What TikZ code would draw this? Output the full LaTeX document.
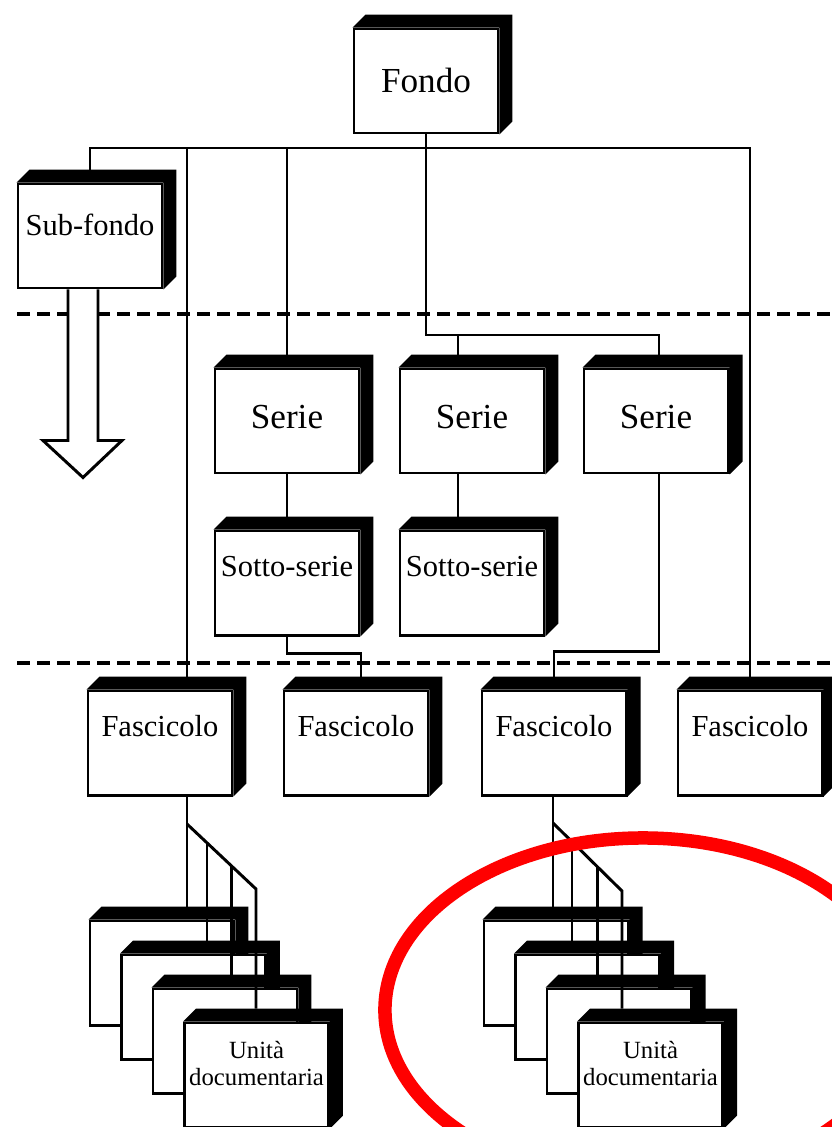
\documentclass[tikz,border=0pt]{standalone}
\usepackage{fontspec}
\setmainfont{Liberation Serif}
\usetikzlibrary{calc}
% black thickness on top and right of a box, plus the point where lines land on it
\newcommand{\spessore}[1]{%
  \fill (#1.north west) -- ++(13,-13) -- ($(#1.north east)+(13,-13)$)
    -- ($(#1.south east)+(13,-13)$) -- (#1.south east) -- (#1.north east) -- cycle;
  \coordinate (#1-t) at ([yshift=3.25mm]#1.north);}

\begin{document}
\begin{tikzpicture}[x=0.025cm,y=-0.025cm,line width=2.1pt,
    scheda/.style={draw,fill=white,minimum width=3.6cm,minimum height=2.6cm,inner sep=0pt,
      font=\fontsize{21.7}{26}\selectfont},
    grande/.style={font=\fontsize{25}{30}\selectfont},
    testo/.style 2 args={text height=#1,text depth=#2},
    piccolo/.style={align=center,inner sep=0pt,font=\fontsize{17.6}{19.2}\selectfont},
    livello/.style={line width=2.8pt,dash pattern=on 0.33cm off 0.17cm}]
  \fill[white] (0,0) rectangle (832,1127);
  \useasboundingbox (0,0) rectangle (832,1127);
  \draw[livello] (17,314) -- (832,314);
  \draw[livello] (17,663) -- (832,663);

  \node[scheda,grande,testo={0.575cm}{0pt}] (fondo) at (426,81) {Fondo};
  \node[scheda,testo={0pt}{0.05cm}] (subfondo) at (90,236) {Sub-fondo};
  \node[scheda,grande,testo={0.35cm}{0pt}] (serie1) at (287,421) {Serie};
  \node[scheda,grande,testo={0.35cm}{0pt}] (serie2) at (472,421) {Serie};
  \node[scheda,grande,testo={0.35cm}{0pt}] (serie3) at (656,421) {Serie};
  \node[scheda,testo={0pt}{0.35cm}] (sotto1) at (287,583) {Sotto-serie};
  \node[scheda,testo={0pt}{0.35cm}] (sotto2) at (472,583) {Sotto-serie};
  \foreach \n/\x in {fasc1/160,fasc2/356,fasc3/554,fasc4/750}
    \node[scheda,testo={0pt}{0.33cm}] (\n) at (\x,743) {Fascicolo};
  \foreach \n in {fondo,subfondo,serie1,serie2,serie3,sotto1,sotto2,fasc1,fasc2,fasc3,fasc4}
    {\spessore{\n}}

  % unita' documentarie, one pile under each fascicolo
  \foreach \k in {1,...,4}{
    \node[scheda] (sxu\k) at ({162+31.5*(\k-1)},{973+34*(\k-1)}) {};
    \spessore{sxu\k}
    \node[scheda] (dxu\k) at ({556+31.5*(\k-1)},{973+34*(\k-1)}) {};
    \spessore{dxu\k}
  }
  \node[piccolo] (sxt) at ([yshift=2.75mm]sxu4) {Unità\\documentaria};
  \node[piccolo] (dxt) at ([yshift=2.75mm]dxu4) {Unità\\documentaria};

  % sub-fondo continues below
  \draw[fill=white] ([xshift=-5.5mm]subfondo.south) -- ++(0,151) -- ++(-25,0) -- ++(40,37)
    -- ++(39,-37) -- ++(-24,0) -- ++(0,-151);

  % links
  \coordinate (bus) at (426,148);
  \coordinate (snodo) at (426,335);
  \draw (subfondo-t) |- (bus) -| (fasc4-t);
  \draw ([xshift=6.75mm]fasc1-t) |- (bus);
  \draw (serie1-t) |- (bus);
  \draw (fondo.south) -- (snodo) -| ([xshift=0.75mm]serie3-t);
  \draw ([xshift=-3.5mm]serie2-t) |- (snodo);
  \draw (serie1.south) -- (sotto1-t);
  \draw ([xshift=-3.5mm]serie2.south) -- ([xshift=-3.5mm]sotto2-t);
  \draw (sotto1.south) -- ++(0,17) -| ([xshift=1.25mm]fasc2-t);
  \draw ([xshift=0.75mm]serie3.south) -- ++(0,177) -| (fasc3-t);

  \coordinate (sxg) at (187,824);
  \coordinate (sxh) at (256,889);
  \draw (fasc1.south -| sxg) -- (sxg |- sxu1-t);
  \draw (sxg) -- (sxh) -- (sxh |- sxu4-t);
  \foreach \t/\k in {.29/2,.65/3}
    \draw ($(sxg)!\t!(sxh)$) coordinate (sxp) -- (sxp |- sxu\k-t);
  \coordinate (dxg) at (553,823);
  \coordinate (dxh) at (622,891);
  \draw (fasc3.south -| dxg) -- (dxg |- dxu1-t);
  \draw (dxg) -- (dxh) -- (dxh |- dxu4-t);
  \foreach \t/\k in {.275/2,.65/3}
    \draw ($(dxg)!\t!(dxh)$) coordinate (dxp) -- (dxp |- dxu\k-t);

  \draw[red,line width=9.6pt] (643,1010) ellipse [x radius=6.45cm,y radius=4.3cm];
\end{tikzpicture}
\end{document}
